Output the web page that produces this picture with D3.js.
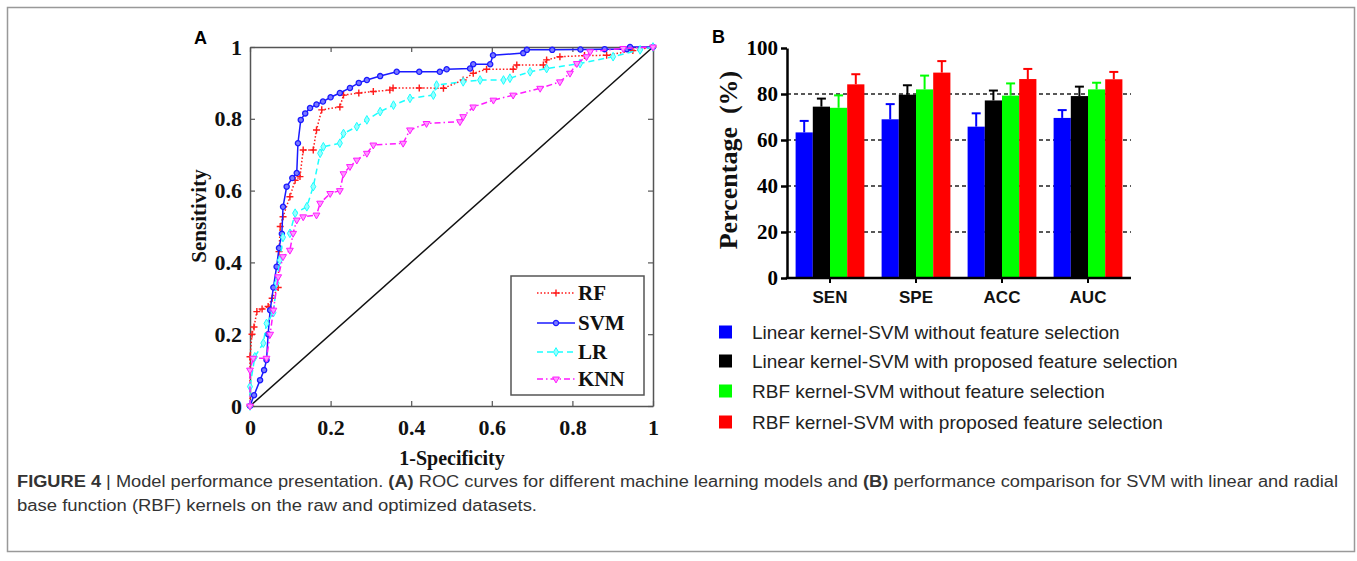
<!DOCTYPE html>
<html>
<head>
<meta charset="utf-8">
<script src="https://cdn.jsdelivr.net/npm/d3@7"></script>
<style>
  body { margin: 0; background: #fff; }
  svg { display: block; }
</style>
</head>
<body>
<div id="fig"></div>
<script>
// ROC curves, [1-specificity, sensitivity]
const rfRoc = [[0,0],[0,0.137],[0.005,0.2],[0.01,0.22],[0.017,0.263],[0.03,0.27],[0.045,0.277],[0.055,0.3],[0.07,0.33],[0.072,0.43],[0.075,0.5],[0.082,0.527],[0.099,0.583],[0.112,0.629],[0.124,0.639],[0.132,0.713],[0.157,0.713],[0.165,0.769],[0.178,0.825],[0.223,0.833],[0.232,0.866],[0.27,0.872],[0.306,0.876],[0.347,0.88],[0.355,0.886],[0.42,0.886],[0.48,0.885],[0.529,0.908],[0.554,0.927],[0.587,0.938],[0.653,0.938],[0.662,0.95],[0.728,0.95],[0.736,0.964],[0.769,0.973],[0.83,0.976],[0.885,0.977],[0.95,0.99],[1,1]]
const svmRoc = [[0,0],[0.01,0.03],[0.025,0.072],[0.035,0.1],[0.041,0.128],[0.045,0.2],[0.05,0.267],[0.058,0.33],[0.066,0.388],[0.072,0.44],[0.079,0.48],[0.082,0.555],[0.091,0.611],[0.105,0.635],[0.116,0.649],[0.119,0.732],[0.126,0.797],[0.137,0.815],[0.149,0.83],[0.165,0.84],[0.181,0.848],[0.2,0.86],[0.223,0.872],[0.248,0.886],[0.27,0.9],[0.29,0.908],[0.323,0.919],[0.364,0.931],[0.42,0.931],[0.471,0.931],[0.488,0.938],[0.546,0.94],[0.554,0.952],[0.596,0.952],[0.603,0.977],[0.678,0.983],[0.687,0.992],[0.75,0.992],[0.82,0.993],[0.88,0.994],[0.935,0.994],[0.943,1],[1,1]]
const lrRoc = [[0,0],[0,0.054],[0.012,0.137],[0.033,0.175],[0.041,0.23],[0.058,0.26],[0.066,0.342],[0.074,0.406],[0.082,0.47],[0.099,0.481],[0.112,0.537],[0.141,0.555],[0.157,0.611],[0.174,0.704],[0.182,0.722],[0.223,0.732],[0.232,0.759],[0.265,0.778],[0.29,0.797],[0.323,0.82],[0.356,0.838],[0.397,0.857],[0.455,0.866],[0.463,0.894],[0.529,0.903],[0.571,0.908],[0.629,0.908],[0.645,0.913],[0.695,0.931],[0.736,0.94],[0.819,0.954],[0.901,0.973],[0.968,0.992],[1,1]]
const knnRoc = [[0,0],[0,0.1],[0.008,0.133],[0.041,0.133],[0.05,0.2],[0.058,0.267],[0.07,0.36],[0.082,0.416],[0.099,0.434],[0.107,0.481],[0.116,0.518],[0.132,0.527],[0.165,0.532],[0.174,0.565],[0.199,0.592],[0.223,0.6],[0.232,0.647],[0.248,0.667],[0.265,0.685],[0.29,0.704],[0.306,0.727],[0.38,0.732],[0.397,0.769],[0.438,0.787],[0.521,0.792],[0.529,0.806],[0.554,0.833],[0.604,0.852],[0.653,0.866],[0.72,0.885],[0.769,0.903],[0.794,0.927],[0.811,0.954],[0.835,0.973],[0.844,0.987],[0.926,0.996],[1,1]]
const rocNames = ["RF", "SVM", "LR", "KNN"]
const rocTicks = [0, 0.2, 0.4, 0.6, 0.8, 1]

// bar chart (B)
const barCategories = ["SEN", "SPE", "ACC", "AUC"]
const barSeries = [
  "Linear kernel-SVM without feature selection",
  "Linear kernel-SVM with proposed feature selection",
  "RBF kernel-SVM without feature selection",
  "RBF kernel-SVM with proposed feature selection"
]
const linNoFs = [63.3, 69.0, 65.8, 69.6]
const linFs = [74.5, 79.7, 77.2, 79.1]
const rbfNoFs = [74.0, 82.0, 79.3, 82.0]
const rbfFs = [84.2, 89.3, 86.5, 86.4]
const linNoFsErr = [5.0, 6.6, 5.8, 3.4]
const linFsErr = [3.5, 4.1, 4.3, 4.1]
const rbfNoFsErr = [5.4, 6.0, 5.3, 2.9]
const rbfFsErr = [4.4, 5.0, 4.4, 3.2]
const barTicks = [0, 20, 40, 60, 80, 100]

const W = 1357, H = 561
const serif = "'Liberation Serif', 'Times New Roman', serif"
const sans = "'Liberation Sans', Arial, sans-serif"

const svg = d3.select("#fig").append("svg")
    .attr("width", W).attr("height", H)

// figure frame
svg.append("rect")
    .attr("x", 7.5).attr("y", 7.5).attr("width", 1347).attr("height", 544)
    .attr("fill", "none").attr("stroke", "#999").attr("stroke-width", 1.5)

// ---------- panel A : ROC ----------
const x = d3.scaleLinear().domain([0, 1]).range([250, 653])
const y = d3.scaleLinear().domain([0, 1]).range([406, 47])

svg.append("text").attr("x", 194).attr("y", 44)
    .attr("font-family", sans).attr("font-weight", "bold").attr("font-size", 18)
    .text("A")

const fmt = d => String(d)

// box + inward ticks
const axisColor = "#555"
function styleAxis(g, labels) {
  g.select(".domain").attr("stroke", axisColor).attr("stroke-width", 1.5)
  g.selectAll(".tick line").attr("stroke", axisColor).attr("stroke-width", 1.2)
  g.selectAll("text").attr("fill", "#111")
    .attr("font-family", serif).attr("font-weight", "bold").attr("font-size", 22)
  if (!labels) g.selectAll("text").remove()
}
svg.append("g").attr("transform", "translate(0,406)")
    .call(d3.axisBottom(x).tickValues(rocTicks).tickFormat(fmt).tickSize(-5).tickSizeOuter(0).tickPadding(13))
    .call(g => styleAxis(g, true))
svg.append("g").attr("transform", "translate(0,47)")
    .call(d3.axisTop(x).tickValues(rocTicks).tickSize(-5).tickSizeOuter(0))
    .call(g => styleAxis(g, false))
svg.append("g").attr("transform", "translate(250,0)")
    .call(d3.axisLeft(y).tickValues(rocTicks).tickFormat(fmt).tickSize(-5).tickSizeOuter(0).tickPadding(8))
    .call(g => styleAxis(g, true))
svg.append("g").attr("transform", "translate(653,0)")
    .call(d3.axisRight(y).tickValues(rocTicks).tickSize(-5).tickSizeOuter(0))
    .call(g => styleAxis(g, false))

// chance line
svg.append("line")
    .attr("x1", x(0)).attr("y1", y(0)).attr("x2", x(1)).attr("y2", y(1))
    .attr("stroke", "#111").attr("stroke-width", 1.5)

const rocStyles = [
  {data: rfRoc, color: "#ff1a1a", dash: "1.5,2", marker: "plus"},
  {data: svmRoc, color: "#1a1aff", dash: null, marker: "circle"},
  {data: lrRoc, color: "#1affff", dash: "6,4", marker: "diamond"},
  {data: knnRoc, color: "#ff1aff", dash: "6,3,1.5,3", marker: "triangle"}
]

function drawMarker(g, kind, color) {
  if (kind === "plus") {
    g.append("path").attr("d", "M-3.5,0H3.5M0,-3.5V3.5")
        .attr("stroke", color).attr("stroke-width", 1.4).attr("fill", "none")
  } else if (kind === "circle") {
    g.append("circle").attr("r", 2.6)
        .attr("stroke", color).attr("stroke-width", 1.3).attr("fill", "#7a7aff")
  } else if (kind === "diamond") {
    g.append("path").attr("d", d3.symbol(d3.symbolDiamond, 22)())
        .attr("stroke", color).attr("stroke-width", 1).attr("fill", "#9ff")
  } else {
    g.append("path").attr("d", d3.symbol(d3.symbolTriangle, 20)())
        .attr("transform", "rotate(180)")
        .attr("stroke", color).attr("stroke-width", 1).attr("fill", "#f9f")
  }
}

const rocLine = d3.line().x(d => x(d[0])).y(d => y(d[1]))
const curves = svg.append("g")
rocStyles.forEach(s => {
  curves.append("path").datum(s.data)
      .attr("d", rocLine)
      .attr("fill", "none")
      .attr("stroke", s.color).attr("stroke-width", 1.5)
      .attr("stroke-dasharray", s.dash)
  curves.append("g").selectAll("g")
    .data(s.data)
    .join("g")
      .attr("transform", d => `translate(${x(d[0])},${y(d[1])})`)
      .each(function() { drawMarker(d3.select(this), s.marker, s.color) })
})

// legend A
const legA = svg.append("g")
legA.append("rect")
    .attr("x", 511).attr("y", 276).attr("width", 133).attr("height", 119)
    .attr("fill", "#fff").attr("stroke", axisColor).attr("stroke-width", 1.5)
const legRows = [293, 323, 352, 379]
rocStyles.forEach((s, i) => {
  const row = legA.append("g").attr("transform", `translate(0,${legRows[i]})`)
  row.append("line").attr("x1", 537).attr("x2", 575)
      .attr("stroke", s.color).attr("stroke-width", 1.5).attr("stroke-dasharray", s.dash)
  drawMarker(row.append("g").attr("transform", "translate(556,0)"), s.marker, s.color)
  row.append("text").attr("x", 578).attr("y", 7)
      .attr("font-family", serif).attr("font-weight", "bold").attr("font-size", 21)
      .attr("fill", "#111")
      .text(rocNames[i])
})

svg.append("text")
    .attr("transform", "translate(206,216) rotate(-90)")
    .attr("text-anchor", "middle")
    .attr("font-family", serif).attr("font-weight", "bold").attr("font-size", 21)
    .attr("fill", "#111")
    .text("Sensitivity")
svg.append("text")
    .attr("x", 452).attr("y", 465)
    .attr("text-anchor", "middle")
    .attr("font-family", serif).attr("font-weight", "bold").attr("font-size", 20)
    .attr("fill", "#111")
    .text("1-Specificity")

// ---------- panel B : bars ----------
svg.append("text").attr("x", 712).attr("y", 43)
    .attr("font-family", sans).attr("font-weight", "bold").attr("font-size", 18)
    .text("B")

const bx = d3.scaleBand().domain(barCategories).range([787, 1131])
    .paddingInner(0.2).paddingOuter(0.1)
const sub = d3.scaleBand().domain(d3.range(4)).range([0, bx.bandwidth()])
const by = d3.scaleLinear().domain([0, 100]).range([278, 48])
const barColors = ["#0000ff", "#000000", "#00ff00", "#ff0000"]
const barValues = [linNoFs, linFs, rbfNoFs, rbfFs]
const barErrors = [linNoFsErr, linFsErr, rbfNoFsErr, rbfFsErr]

// dashed grid behind the bars
svg.append("g").selectAll("line")
  .data(barTicks.filter(t => t > 0 && t < 100))
  .join("line")
    .attr("x1", 787).attr("x2", 1131)
    .attr("y1", d => by(d)).attr("y2", d => by(d))
    .attr("stroke", "#222").attr("stroke-width", 1.5).attr("stroke-dasharray", "4,3")

const barData = []
barCategories.forEach((c, ci) => {
  barValues.forEach((vals, si) => {
    barData.push({cat: c, s: si, v: vals[ci], e: barErrors[si][ci]})
  })
})

const bars = svg.append("g")
bars.selectAll("rect")
  .data(barData)
  .join("rect")
    .attr("x", d => bx(d.cat) + sub(d.s))
    .attr("y", d => by(d.v))
    .attr("width", sub.bandwidth())
    .attr("height", d => by(0) - by(d.v))
    .attr("fill", d => barColors[d.s])

// error bars (upper only)
const errs = svg.append("g")
errs.selectAll("line.stem")
  .data(barData)
  .join("line").attr("class", "stem")
    .attr("x1", d => bx(d.cat) + sub(d.s) + sub.bandwidth() / 2)
    .attr("x2", d => bx(d.cat) + sub(d.s) + sub.bandwidth() / 2)
    .attr("y1", d => by(d.v)).attr("y2", d => by(d.v + d.e))
    .attr("stroke", d => barColors[d.s]).attr("stroke-width", 2)
errs.selectAll("line.cap")
  .data(barData)
  .join("line").attr("class", "cap")
    .attr("x1", d => bx(d.cat) + sub(d.s) + sub.bandwidth() / 2 - 4.5)
    .attr("x2", d => bx(d.cat) + sub(d.s) + sub.bandwidth() / 2 + 4.5)
    .attr("y1", d => by(d.v + d.e)).attr("y2", d => by(d.v + d.e))
    .attr("stroke", d => barColors[d.s]).attr("stroke-width", 2)

// axes B
svg.append("g").attr("transform", "translate(787,0)")
    .call(d3.axisLeft(by).tickValues(barTicks).tickSize(6).tickSizeOuter(0).tickPadding(3))
    .call(g => {
      g.select(".domain").attr("stroke", "#000").attr("stroke-width", 2.5)
      g.selectAll(".tick line").attr("stroke", "#000").attr("stroke-width", 2.5)
      g.selectAll("text").attr("fill", "#000")
        .attr("font-family", serif).attr("font-weight", "bold").attr("font-size", 21)
    })
svg.append("g").attr("transform", "translate(0,278)")
    .call(d3.axisBottom(bx).tickSize(5).tickSizeOuter(0).tickPadding(8))
    .call(g => {
      g.select(".domain").attr("stroke", "#000").attr("stroke-width", 2.5)
        .attr("d", "M785.75,0H1131")
      g.selectAll(".tick line").attr("stroke", "#000").attr("stroke-width", 2)
      g.selectAll("text").attr("fill", "#111")
        .attr("font-family", sans).attr("font-weight", "bold").attr("font-size", 17)
    })

svg.append("text")
    .attr("transform", "translate(737,160) rotate(-90)")
    .attr("text-anchor", "middle")
    .attr("font-family", serif).attr("font-weight", "bold").attr("font-size", 26)
    .attr("fill", "#111")
    .attr("xml:space", "preserve")
    .text("Percentage  (%)")

// legend B
const legB = svg.append("g")
barSeries.forEach((name, i) => {
  const yy = [332, 361, 391, 422][i]
  legB.append("rect").attr("x", 719).attr("y", yy - 6.5).attr("width", 13).attr("height", 13)
      .attr("fill", barColors[i])
  legB.append("text").attr("x", 752).attr("y", yy + 6.5)
      .attr("font-family", sans).attr("font-size", 19).attr("fill", "#222")
      .text(name)
})

// ---------- caption ----------
const cap = svg.append("g")
    .attr("font-family", "'Liberation Sans Narrow', 'Arial Narrow', " + sans)
    .attr("font-size", 16).attr("fill", "#333")
const c1 = cap.append("text").attr("x", 17).attr("y", 487)
    .attr("textLength", 1321).attr("lengthAdjust", "spacingAndGlyphs")
c1.append("tspan").attr("font-weight", "bold").text("FIGURE 4")
c1.append("tspan").text(" | Model performance presentation. ")
c1.append("tspan").attr("font-weight", "bold").text("(A)")
c1.append("tspan").text(" ROC curves for different machine learning models and ")
c1.append("tspan").attr("font-weight", "bold").text("(B)")
c1.append("tspan").text(" performance comparison for SVM with linear and radial")
cap.append("text").attr("x", 17).attr("y", 511)
    .attr("textLength", 520).attr("lengthAdjust", "spacingAndGlyphs")
    .text("base function (RBF) kernels on the raw and optimized datasets.")
</script>
</body>
</html>
